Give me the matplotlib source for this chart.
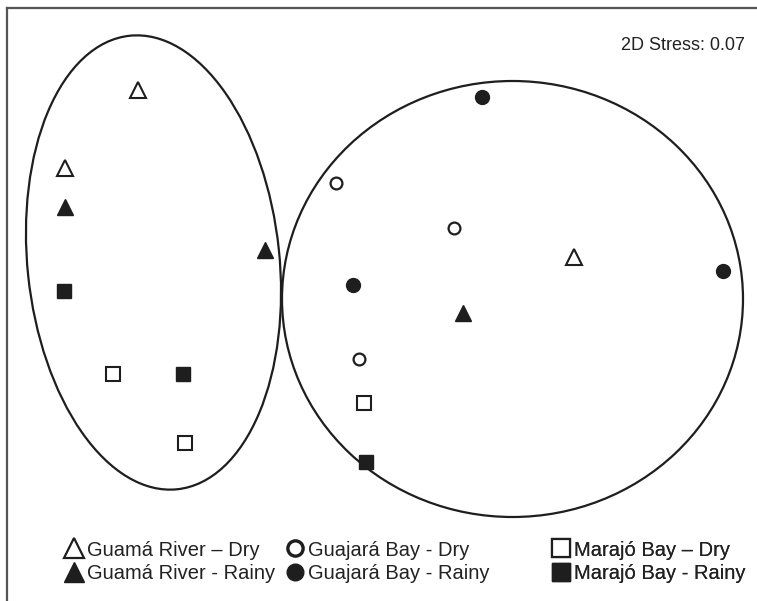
import matplotlib.pyplot as plt
from matplotlib.patches import Ellipse
from matplotlib.lines import Line2D

plt.rcParams['font.family'] = ['Liberation Sans', 'DejaVu Sans']

# NMDS ordination scores (plot units)
gr_dry_x = [138, 65, 574]
gr_dry_y = [90, 168, 257]
gr_rainy_x = [65, 265, 463]
gr_rainy_y = [207, 250, 313]
gb_dry_x = [336, 454, 359]
gb_dry_y = [183, 228, 359]
gb_rainy_x = [482, 353, 723]
gb_rainy_y = [97, 285, 271]
mb_dry_x = [113, 364, 185]
mb_dry_y = [374, 403, 443]
mb_rainy_x = [64, 183, 366]
mb_rainy_y = [291, 374, 462]

labels = ['Guamá River – Dry', 'Guamá River - Rainy',
          'Guajará Bay - Dry', 'Guajará Bay - Rainy',
          'Marajó Bay – Dry', 'Marajó Bay - Rainy']
stress = 0.07

ink = '#1e1e1e'

fig = plt.figure(figsize=(7.57, 6.01), dpi=100)
ax = fig.add_axes([7/757, 0, 750/757, 593/601])
ax.set_xlim(7, 757)
ax.set_ylim(601, 8)
ax.set_xticks([])
ax.set_yticks([])
for s in ['right', 'bottom']:
    ax.spines[s].set_visible(False)
for s in ['left', 'top']:
    ax.spines[s].set_color('#555555')
    ax.spines[s].set_linewidth(1.6)

# group ellipses
ax.add_patch(Ellipse((153.5, 262.5), 252, 456, angle=-6.0, fill=False,
                     ec=ink, lw=1.6))
ax.add_patch(Ellipse((512.5, 299), 461, 436, fill=False, ec=ink, lw=1.6))

ax.plot(gr_dry_x, gr_dry_y, '^', ms=11, mfc='white', mec=ink, mew=1.5, ls='none')
ax.plot(gr_rainy_x, gr_rainy_y, '^', ms=11, mfc=ink, mec=ink, ls='none')
ax.plot(gb_dry_x, gb_dry_y, 'o', ms=8.5, mfc='white', mec=ink, mew=1.6, ls='none')
ax.plot(gb_rainy_x, gb_rainy_y, 'o', ms=10, mfc=ink, mec=ink, ls='none')
ax.plot(mb_dry_x, mb_dry_y, 's', ms=9.5, mfc='white', mec=ink, mew=1.5, ls='none')
ax.plot(mb_rainy_x, mb_rainy_y, 's', ms=9.5, mfc=ink, mec=ink, ls='none')

ax.text(745, 45, '2D Stress: %.2f' % stress, ha='right', va='center',
        fontsize=13, color='#222222')

# legend, three columns
handles = [
    Line2D([], [], marker='^', ms=14, mfc='white', mec=ink, mew=1.6, ls='none'),
    Line2D([], [], marker='^', ms=14, mfc=ink, mec=ink, ls='none'),
    Line2D([], [], marker='o', ms=11, mfc='white', mec=ink, mew=2.4, ls='none'),
    Line2D([], [], marker='o', ms=12, mfc=ink, mec=ink, ls='none'),
    Line2D([], [], marker='s', ms=12.5, mfc='white', mec=ink, mew=1.6, ls='none'),
    Line2D([], [], marker='s', ms=12.5, mfc=ink, mec=ink, ls='none'),
]
col_x = [64, 285, 551]
for i in range(3):
    leg = ax.legend(handles[2*i:2*i+2], labels[2*i:2*i+2], loc='upper left',
                    bbox_to_anchor=(col_x[i], 540.5), bbox_transform=ax.transData,
                    frameon=False, fontsize=14.5, handlelength=0.95,
                    handletextpad=0.2, labelspacing=0.22, borderpad=0,
                    borderaxespad=0, labelcolor='#222222')
    ax.add_artist(leg)

fig.savefig('out.png', dpi=100)
